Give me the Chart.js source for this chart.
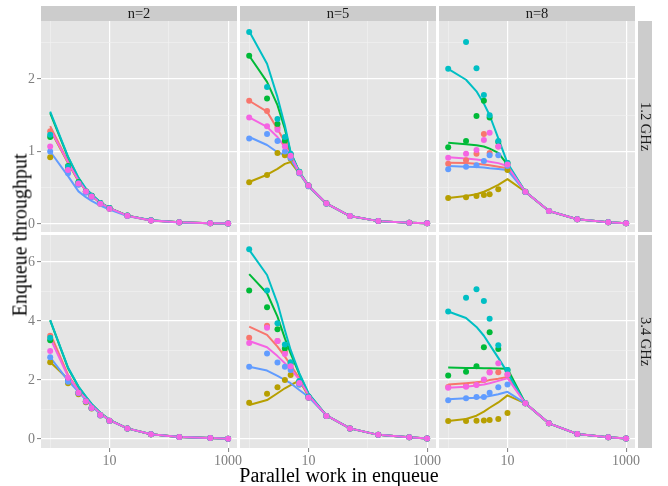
<!DOCTYPE html>
<html><head><meta charset="utf-8">
<script src="https://cdn.jsdelivr.net/npm/chart.js@4/dist/chart.umd.min.js"></script>
<style>
html,body{margin:0;padding:0;background:#fff;}
#wrap{position:relative;width:668px;height:486px;overflow:hidden;font-family:"Liberation Serif","Times New Roman",serif;}
#wrap canvas{position:absolute;}
.strip{position:absolute;background:#CCCCCC;color:#1A1A1A;font-size:14.5px;display:flex;align-items:center;justify-content:center;white-space:nowrap;}
.vstrip{writing-mode:vertical-rl;}
.title{position:absolute;color:#000;font-size:20px;white-space:nowrap;}
</style></head><body><div id="wrap"></div><script>
// ---------- data ----------
const xValues = [1, 2, 3, 4, 5, 7, 10, 20, 50, 150, 500, 1000];
// series order: red, olive, green, cyan, blue, pink
const seriesColors = ['#F8766D', '#B79F00', '#00BA38', '#00BFC4', '#619CFF', '#F564E3'];
const colLabels = ['n=2', 'n=5', 'n=8'];
const rowLabels = ['1.2 GHz', '3.4 GHz'];
const xGridValues = [1, 10, 100, 1000];
const xTickLabels = [10, 1000];
const yGridTop = [0, 0.5, 1, 1.5, 2, 2.5];
const yTickLabelsTop = [0, 1, 2];
const yGridBottom = [0, 1, 2, 3, 4, 5, 6];
const yTickLabelsBottom = [0, 2, 4, 6];

// 1.2 GHz, n=2
const pts_12_n2 = [
  [1.28, 0.78, 0.57, 0.45, 0.39, 0.29, 0.22, 0.115, 0.050, 0.023, 0.012, 0.008],
  [0.92, 0.76, 0.55, 0.44, 0.38, 0.28, 0.21, 0.113, 0.049, 0.022, 0.011, 0.007],
  [1.20, 0.80, 0.58, 0.45, 0.39, 0.29, 0.22, 0.116, 0.051, 0.023, 0.012, 0.008],
  [1.23, 0.79, 0.57, 0.45, 0.39, 0.29, 0.22, 0.116, 0.051, 0.023, 0.012, 0.008],
  [1.00, 0.70, 0.54, 0.43, 0.37, 0.28, 0.21, 0.112, 0.049, 0.022, 0.011, 0.007],
  [1.07, 0.745, 0.56, 0.45, 0.38, 0.28, 0.21, 0.114, 0.050, 0.023, 0.012, 0.008]
];
const fit_12_n2 = [
  [1.35, 0.86, 0.60, 0.47, 0.39, 0.29, 0.22, 0.115, 0.050, 0.023, 0.012, 0.008],
  [1.30, 0.84, 0.59, 0.46, 0.39, 0.29, 0.22, 0.115, 0.050, 0.023, 0.012, 0.008],
  [1.53, 0.92, 0.63, 0.48, 0.40, 0.30, 0.22, 0.116, 0.051, 0.023, 0.012, 0.008],
  [1.55, 0.93, 0.64, 0.49, 0.41, 0.30, 0.22, 0.116, 0.051, 0.023, 0.012, 0.008],
  [1.00, 0.66, 0.45, 0.37, 0.32, 0.255, 0.20, 0.110, 0.049, 0.022, 0.011, 0.007],
  [1.31, 0.85, 0.60, 0.46, 0.39, 0.29, 0.22, 0.115, 0.050, 0.023, 0.012, 0.008]
];
// 1.2 GHz, n=5
const pts_12_n5 = [
  [1.70, 1.56, 1.33, 1.12, 0.96, 0.71, 0.53, 0.285, 0.11, 0.040, 0.018, 0.010],
  [0.575, 0.675, 0.98, 0.95, 0.90, 0.70, 0.52, 0.280, 0.11, 0.040, 0.018, 0.010],
  [2.32, 1.73, 1.38, 1.15, 0.96, 0.72, 0.53, 0.285, 0.11, 0.040, 0.018, 0.010],
  [2.65, 1.89, 1.45, 1.20, 0.97, 0.72, 0.53, 0.285, 0.11, 0.040, 0.018, 0.010],
  [1.18, 1.24, 1.145, 1.00, 0.91, 0.70, 0.52, 0.280, 0.11, 0.040, 0.018, 0.010],
  [1.47, 1.35, 1.30, 1.07, 0.94, 0.71, 0.53, 0.285, 0.11, 0.040, 0.018, 0.010]
];
const fit_12_n5 = [
  [1.70, 1.55, 1.31, 1.13, 0.97, 0.71, 0.53, 0.285, 0.11, 0.040, 0.018, 0.010],
  [0.58, 0.68, 0.76, 0.83, 0.855, 0.70, 0.52, 0.280, 0.11, 0.040, 0.018, 0.010],
  [2.32, 1.96, 1.64, 1.31, 0.98, 0.72, 0.53, 0.285, 0.11, 0.040, 0.018, 0.010],
  [2.66, 2.21, 1.75, 1.36, 0.99, 0.72, 0.53, 0.285, 0.11, 0.040, 0.018, 0.010],
  [1.20, 1.09, 0.99, 0.95, 0.90, 0.70, 0.52, 0.280, 0.11, 0.040, 0.018, 0.010],
  [1.47, 1.34, 1.20, 1.06, 0.95, 0.71, 0.53, 0.285, 0.11, 0.040, 0.018, 0.010]
];
// 1.2 GHz, n=8
const pts_12_n8 = [
  [0.83, 0.88, 0.97, 1.24, 0.98, 1.07, 0.82, 0.445, 0.18, 0.065, 0.023, 0.010],
  [0.36, 0.37, 0.385, 0.40, 0.41, 0.48, 0.745, 0.44, 0.18, 0.065, 0.023, 0.010],
  [1.06, 1.145, 1.49, 1.70, 1.47, 1.13, 0.84, 0.445, 0.18, 0.065, 0.023, 0.010],
  [2.14, 2.51, 2.15, 1.78, 1.50, 1.145, 0.84, 0.445, 0.18, 0.065, 0.023, 0.010],
  [0.755, 0.79, 0.81, 0.87, 0.95, 0.95, 0.80, 0.44, 0.18, 0.065, 0.023, 0.010],
  [0.915, 0.97, 1.02, 1.16, 1.26, 1.07, 0.82, 0.445, 0.18, 0.065, 0.023, 0.010]
];
const fit_12_n8 = [
  [0.845, 0.84, 0.83, 0.82, 0.81, 0.79, 0.77, 0.445, 0.18, 0.065, 0.023, 0.010],
  [0.36, 0.385, 0.41, 0.445, 0.48, 0.54, 0.62, 0.445, 0.18, 0.065, 0.023, 0.010],
  [1.12, 1.10, 1.085, 1.07, 1.04, 0.98, 0.82, 0.445, 0.18, 0.065, 0.023, 0.010],
  [2.14, 1.99, 1.83, 1.66, 1.50, 1.18, 0.84, 0.445, 0.18, 0.065, 0.023, 0.010],
  [0.80, 0.79, 0.785, 0.78, 0.77, 0.76, 0.745, 0.445, 0.18, 0.065, 0.023, 0.010],
  [0.92, 0.905, 0.89, 0.875, 0.86, 0.84, 0.80, 0.445, 0.18, 0.065, 0.023, 0.010]
];
// 3.4 GHz, n=2
const pts_34_n2 = [
  [3.50, 2.02, 1.57, 1.28, 1.05, 0.81, 0.62, 0.36, 0.16, 0.07, 0.03, 0.01],
  [2.60, 1.89, 1.52, 1.25, 1.03, 0.80, 0.61, 0.36, 0.16, 0.07, 0.03, 0.01],
  [3.35, 2.00, 1.56, 1.28, 1.05, 0.81, 0.62, 0.36, 0.16, 0.07, 0.03, 0.01],
  [3.43, 2.02, 1.57, 1.28, 1.05, 0.81, 0.62, 0.36, 0.16, 0.07, 0.03, 0.01],
  [2.77, 1.94, 1.55, 1.27, 1.04, 0.80, 0.61, 0.36, 0.16, 0.07, 0.03, 0.01],
  [2.98, 2.08, 1.57, 1.28, 1.05, 0.81, 0.62, 0.36, 0.16, 0.07, 0.03, 0.01]
];
const fit_34_n2 = [
  [3.58, 2.17, 1.66, 1.38, 1.15, 0.87, 0.64, 0.36, 0.16, 0.07, 0.03, 0.01],
  [2.61, 2.03, 1.62, 1.35, 1.13, 0.86, 0.64, 0.36, 0.16, 0.07, 0.03, 0.01],
  [4.02, 2.40, 1.77, 1.43, 1.18, 0.89, 0.65, 0.36, 0.16, 0.07, 0.03, 0.01],
  [4.03, 2.42, 1.78, 1.44, 1.19, 0.89, 0.65, 0.36, 0.16, 0.07, 0.03, 0.01],
  [2.77, 1.98, 1.60, 1.33, 1.12, 0.85, 0.63, 0.36, 0.16, 0.07, 0.03, 0.01],
  [3.42, 2.12, 1.64, 1.36, 1.14, 0.87, 0.64, 0.36, 0.16, 0.07, 0.03, 0.01]
];
// 3.4 GHz, n=5
const pts_34_n5 = [
  [3.43, 3.84, 3.32, 2.95, 2.40, 1.90, 1.41, 0.78, 0.36, 0.14, 0.06, 0.02],
  [1.23, 1.53, 1.75, 2.00, 2.17, 1.85, 1.40, 0.78, 0.36, 0.14, 0.06, 0.02],
  [5.03, 4.47, 3.72, 3.07, 2.55, 1.95, 1.43, 0.78, 0.36, 0.14, 0.06, 0.02],
  [6.43, 5.03, 3.92, 3.20, 2.60, 1.97, 1.44, 0.78, 0.36, 0.14, 0.06, 0.02],
  [2.45, 2.90, 2.59, 2.45, 2.34, 1.85, 1.40, 0.78, 0.36, 0.14, 0.06, 0.02],
  [3.25, 3.77, 3.32, 2.88, 2.47, 1.90, 1.41, 0.78, 0.36, 0.14, 0.06, 0.02]
];
const fit_34_n5 = [
  [3.81, 3.53, 3.13, 2.79, 2.51, 2.06, 1.50, 0.80, 0.36, 0.14, 0.06, 0.02],
  [1.15, 1.32, 1.55, 1.72, 1.83, 1.98, 1.46, 0.80, 0.36, 0.14, 0.06, 0.02],
  [5.59, 4.94, 4.15, 3.41, 2.90, 2.20, 1.53, 0.80, 0.36, 0.14, 0.06, 0.02],
  [6.41, 5.56, 4.60, 3.69, 3.02, 2.23, 1.55, 0.80, 0.36, 0.14, 0.06, 0.02],
  [2.45, 2.32, 2.14, 2.00, 1.89, 1.66, 1.43, 0.80, 0.36, 0.14, 0.06, 0.02],
  [3.32, 3.11, 2.81, 2.57, 2.36, 2.02, 1.49, 0.80, 0.36, 0.14, 0.06, 0.02]
];
// 3.4 GHz, n=8
const pts_34_n8 = [
  [1.76, 1.80, 1.85, 2.00, 2.27, 2.26, 2.19, 1.21, 0.53, 0.17, 0.06, 0.02],
  [0.61, 0.61, 0.62, 0.63, 0.64, 0.68, 0.88, 1.21, 0.53, 0.17, 0.06, 0.02],
  [2.15, 2.28, 2.47, 3.11, 3.62, 3.05, 2.34, 1.21, 0.53, 0.17, 0.06, 0.02],
  [4.32, 4.79, 5.08, 4.68, 4.08, 3.18, 2.34, 1.21, 0.53, 0.17, 0.06, 0.02],
  [1.31, 1.38, 1.42, 1.42, 1.57, 1.75, 1.85, 1.21, 0.53, 0.17, 0.06, 0.02],
  [1.74, 1.77, 1.83, 2.02, 2.25, 2.57, 2.19, 1.21, 0.53, 0.17, 0.06, 0.02]
];
const fit_34_n8 = [
  [1.85, 1.89, 1.92, 1.95, 2.00, 2.04, 2.10, 1.21, 0.53, 0.17, 0.06, 0.02],
  [0.61, 0.68, 0.79, 0.93, 1.06, 1.24, 1.48, 1.21, 0.53, 0.17, 0.06, 0.02],
  [2.42, 2.41, 2.41, 2.40, 2.40, 2.39, 2.38, 1.21, 0.53, 0.17, 0.06, 0.02],
  [4.32, 4.10, 3.80, 3.50, 3.20, 2.75, 2.25, 1.21, 0.53, 0.17, 0.06, 0.02],
  [1.35, 1.38, 1.40, 1.42, 1.46, 1.52, 1.60, 1.21, 0.53, 0.17, 0.06, 0.02],
  [1.74, 1.77, 1.81, 1.85, 1.89, 1.97, 2.06, 1.21, 0.53, 0.17, 0.06, 0.02]
];

const panelPoints = [[pts_12_n2, pts_12_n5, pts_12_n8], [pts_34_n2, pts_34_n5, pts_34_n8]];
const panelFits = [[fit_12_n2, fit_12_n5, fit_12_n8], [fit_34_n2, fit_34_n5, fit_34_n8]];

// ---------- layout ----------
const LEFT = [41, 240, 439], PW = 196;
const TOP = [21, 235], PH = [211, 213];
const PADL = 45, PADR = 16, PADT = 4, AXB = 30;
const yLimits = [[-0.11, 2.80], [-0.305, 6.915]];
const yGrids = [yGridTop, yGridBottom];
const yLabels = [yTickLabelsTop, yTickLabelsBottom];
const FONT = "'Liberation Serif', 'Times New Roman', serif";
const wrap = document.getElementById('wrap');

const panelBg = {
  id: 'panelBg',
  beforeDraw(ch) {
    const a = ch.chartArea, g = ch.ctx;
    g.save(); g.fillStyle = '#E5E5E5';
    g.fillRect(a.left, a.top, a.right - a.left, a.bottom - a.top);
    g.restore();
  }
};

function makePanel(r, c) {
  const pts = panelPoints[r][c], fit = panelFits[r][c];
  const cv = document.createElement('canvas');
  const w = PADL + PW + PADR, h = PADT + PH[r] + AXB;
  cv.width = w; cv.height = h;
  cv.style.left = (LEFT[c] - PADL) + 'px';
  cv.style.top = (TOP[r] - PADT) + 'px';
  cv.style.width = w + 'px'; cv.style.height = h + 'px';
  wrap.appendChild(cv);
  const datasets = [];
  for (let s = 5; s >= 0; s--) {
    datasets.push({
      data: xValues.map((x, i) => ({ x: x, y: pts[s][i] })),
      showLine: false, pointRadius: 3, pointBorderWidth: 0,
      pointBackgroundColor: seriesColors[s], backgroundColor: seriesColors[s], borderColor: seriesColors[s]
    });
  }
  for (let s = 5; s >= 0; s--) {
    datasets.push({
      data: xValues.map((x, i) => ({ x: x, y: fit[s][i] })),
      showLine: true, pointRadius: 0, borderWidth: 2, tension: 0,
      borderColor: seriesColors[s], backgroundColor: seriesColors[s], fill: false,
      borderJoinStyle: 'round'
    });
  }
  const isMajX = v => xTickLabels.includes(v);
  const isMajY = v => yLabels[r].includes(v);
  new Chart(cv, {
    type: 'scatter',
    data: { datasets },
    plugins: [panelBg],
    options: {
      responsive: false, animation: false, devicePixelRatio: 1, events: [],
      layout: { padding: { left: 0, right: PADR, top: PADT, bottom: 0 } },
      plugins: { legend: { display: false }, tooltip: { enabled: false } },
      scales: {
        x: {
          type: 'logarithmic', min: Math.pow(10, -0.15), max: Math.pow(10, 3.15),
          afterBuildTicks: sc => { sc.ticks = xGridValues.map(v => ({ value: v })); },
          afterFit: sc => { sc.height = AXB; sc.paddingLeft = 0; sc.paddingRight = 0; },
          ticks: {
            display: r === 1, autoSkip: false, maxRotation: 0, minRotation: 0, padding: 1,
            color: '#7F7F7F', font: { family: FONT, size: 14 },
            callback: v => (isMajX(v) ? String(v) : '')
          },
          grid: {
            color: ctx => (ctx.tick && isMajX(ctx.tick.value) ? '#FFFFFF' : '#F2F2F2'),
            lineWidth: ctx => (ctx.tick && isMajX(ctx.tick.value) ? 1.2 : 0.6),
            drawTicks: r === 1, tickLength: 4,
            tickColor: ctx => (ctx.tick && isMajX(ctx.tick.value) ? '#7F7F7F' : 'rgba(0,0,0,0)'),
            tickWidth: 1
          },
          border: { display: false }
        },
        y: {
          type: 'linear', min: yLimits[r][0], max: yLimits[r][1],
          afterBuildTicks: sc => { sc.ticks = yGrids[r].map(v => ({ value: v })); },
          afterFit: sc => { sc.width = PADL; sc.paddingTop = 0; sc.paddingBottom = 0; },
          ticks: {
            display: c === 0, autoSkip: false, padding: 2,
            color: '#7F7F7F', font: { family: FONT, size: 14 },
            callback: v => (isMajY(v) ? String(v) : '')
          },
          grid: {
            color: ctx => (ctx.tick && isMajY(ctx.tick.value) ? '#FFFFFF' : '#F2F2F2'),
            lineWidth: ctx => (ctx.tick && isMajY(ctx.tick.value) ? 1.2 : 0.6),
            drawTicks: c === 0, tickLength: 4,
            tickColor: ctx => (ctx.tick && isMajY(ctx.tick.value) ? '#7F7F7F' : 'rgba(0,0,0,0)'),
            tickWidth: 1
          },
          border: { display: false }
        }
      }
    }
  });
}

for (let r = 0; r < 2; r++) for (let c = 0; c < 3; c++) makePanel(r, c);

function addDiv(cls, text, css) {
  const d = document.createElement('div');
  d.className = cls; d.textContent = text;
  Object.assign(d.style, css);
  wrap.appendChild(d);
  return d;
}
for (let c = 0; c < 3; c++) {
  addDiv('strip', colLabels[c], { left: LEFT[c] + 'px', top: '6px', width: PW + 'px', height: '15px' });
}
for (let r = 0; r < 2; r++) {
  addDiv('strip vstrip', rowLabels[r], { left: '638px', top: TOP[r] + 'px', width: '14px', height: PH[r] + 'px' });
}
addDiv('title', 'Parallel work in enqueue', { left: '0px', width: '678px', textAlign: 'center', top: '464px' });
const yt = addDiv('title', 'Enqueue throughput', { left: '20px', top: '235px', transform: 'translate(-50%,-50%) rotate(-90deg)' });
</script></body></html>
